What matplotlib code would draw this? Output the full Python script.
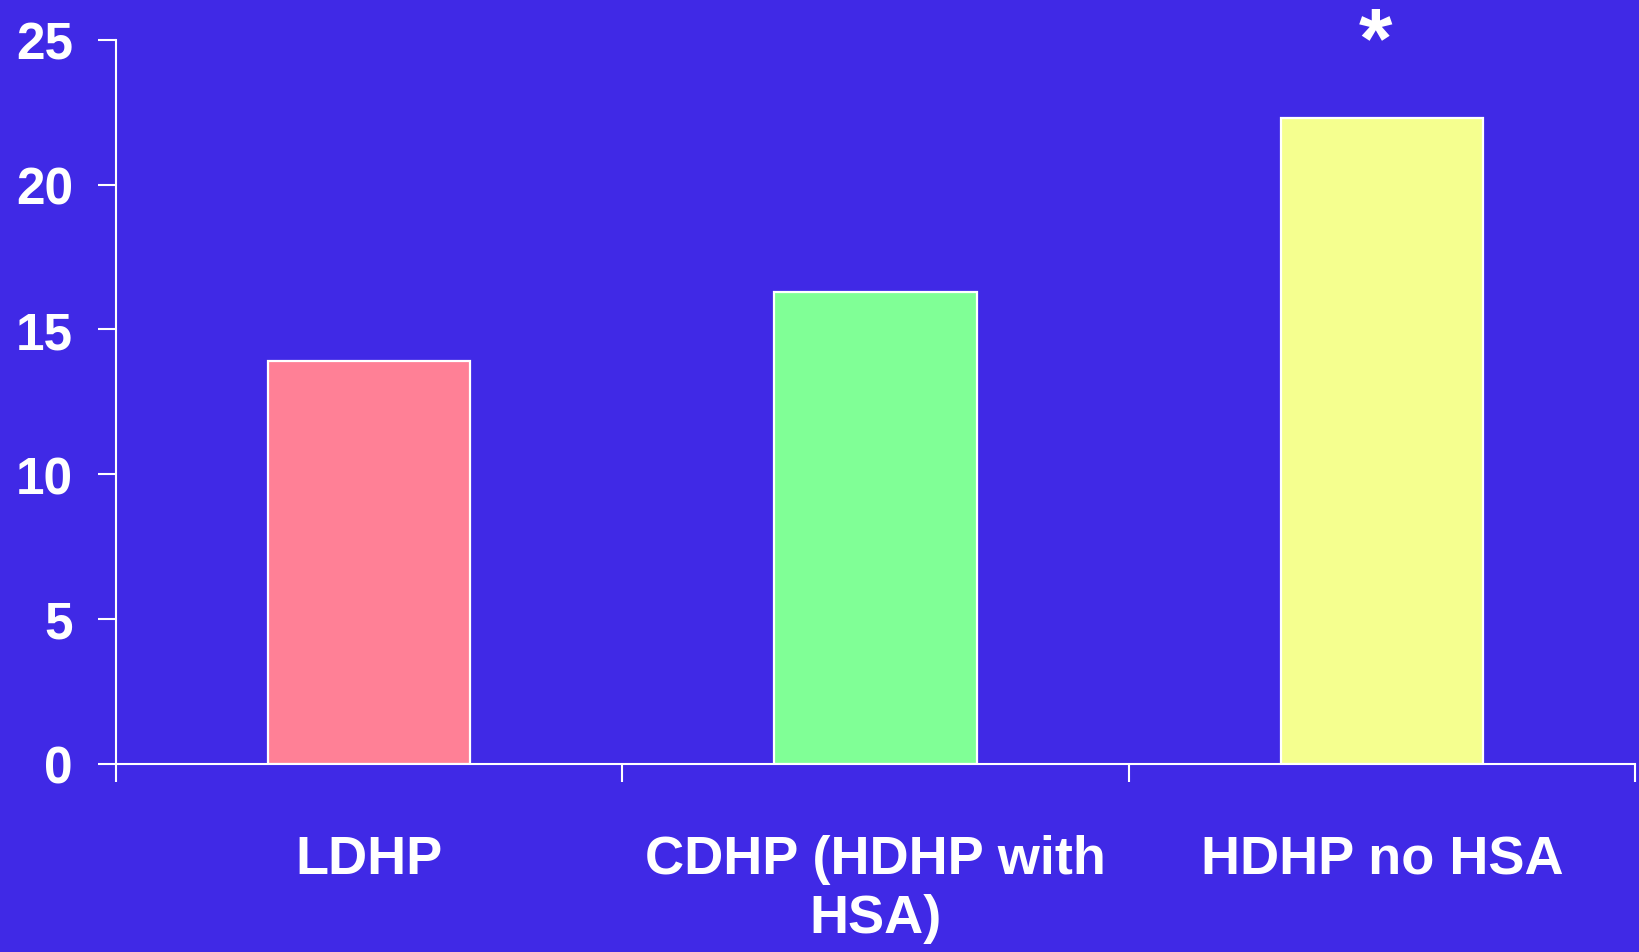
import matplotlib
matplotlib.use("Agg")
import matplotlib.pyplot as plt
import numpy as np

# dados
categorias = ["LDHP", "CDHP (HDHP with\nHSA)", "HDHP no HSA"]
valores = [13.9, 16.3, 22.3]
cores = ["#FF8096", "#80FF96", "#F5FF8F"]
marcas = ["", "", "*"]
yticks = [0, 5, 10, 15, 20, 25]

fundo = "#4029E6"
plt.rcParams['font.family'] = ['Liberation Sans', 'DejaVu Sans']
plt.rcParams['font.weight'] = 'bold'

fig = plt.figure(figsize=(16.4, 9.53), dpi=100, facecolor=fundo)
ax = fig.add_axes([0.0707, 0.1977, 0.9263, 0.7594])
ax.set_facecolor(fundo)

x = np.arange(len(categorias)) + 0.5
ax.bar(x, valores, width=0.4, color=cores, edgecolor="white", linewidth=1.6, zorder=2)

for xi, v, m in zip(x, valores, marcas):
    if m:
        ax.text(xi - 0.012, 24.85, m, ha="center", va="center", color="white",
                fontsize=62, fontweight="bold", clip_on=False)

ax.set_xlim(0, 3)
ax.set_ylim(0, 25)

# ticks principais nas divisões, rótulos nos ticks menores
ax.set_xticks([0, 1, 2, 3])
ax.set_xticklabels([])
ax.set_xticks(x, minor=True)
ax.set_xticklabels(categorias, minor=True, color="white", fontsize=39,
                   fontweight="bold", linespacing=1.22)
ax.tick_params(axis="x", which="minor", length=0, pad=51)
ax.tick_params(axis="x", which="major", length=13, width=1.5, color="white", direction="out")

ax.set_yticks(yticks)
ax.set_yticklabels([str(t) for t in yticks], color="white", fontsize=37, fontweight="bold")
ax.tick_params(axis="y", length=13, width=1.5, color="white", direction="out", pad=18)

for lado in ["top", "right"]:
    ax.spines[lado].set_visible(False)
for lado in ["left", "bottom"]:
    ax.spines[lado].set_color("white")
    ax.spines[lado].set_linewidth(1.5)

fig.savefig("out.png", dpi=100, facecolor=fundo)
